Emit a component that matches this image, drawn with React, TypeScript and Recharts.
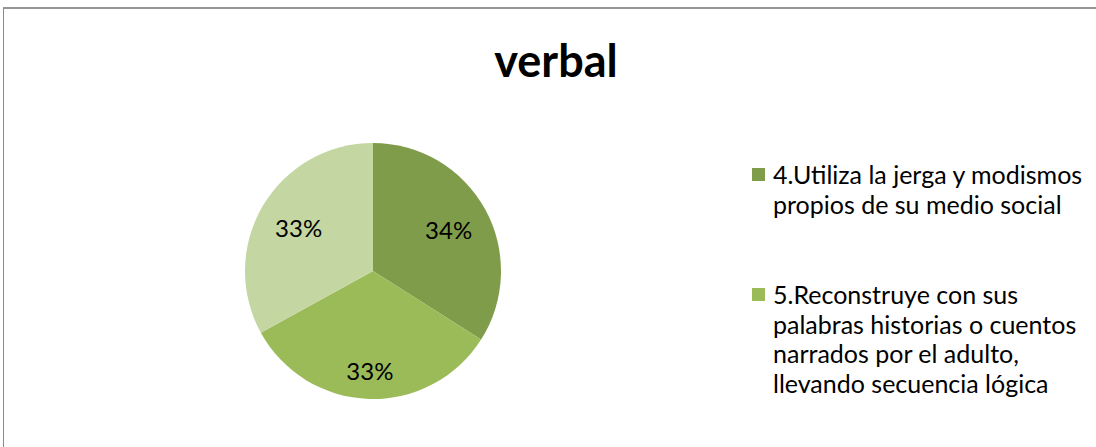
import { PieChart, Pie, Cell, Legend } from "recharts";

const categories = [
  "4.Utiliza la jerga y modismos propios de su medio social",
  "5.Reconstruye con sus palabras historias o cuentos narrados por el adulto, llevando secuencia lógica",
  "6.",
];
const values = [34, 33, 33];
const colors = ["#7f9c4a", "#9bbb59", "#c4d6a2"];

const data = categories.map((name, i) => ({ name, value: values[i] }));

const FONT = "Lato, 'Open Sans', sans-serif";
const RADIAN = Math.PI / 180;
const LEGEND_H = 240;
const ENTRY_H = 120;

// percentage label, pushed inward so its box stays inside the slice
function renderLabel(props: any) {
  const { cx, cy, midAngle, outerRadius, percent } = props;
  const cos = Math.cos(-midAngle * RADIAN);
  const sin = Math.sin(-midAngle * RADIAN);
  const boxW = 45;
  const boxH = 22;
  const r = outerRadius * 0.87 - (boxW / 2) * Math.abs(cos) - (boxH / 2) * Math.abs(sin);
  return (
    <text
      x={cx + r * cos}
      y={cy + r * sin}
      fill="#000"
      textAnchor="middle"
      dominantBaseline="central"
      fontSize={24}
      fontFamily={FONT}
    >
      {`${Math.round(percent * 100)}%`}
    </text>
  );
}

// legend like the office one: entries that do not fit in the box are dropped
function LegendContent(props: any) {
  const { payload } = props;
  const shown = (payload || []).slice(0, Math.floor(LEGEND_H / ENTRY_H));
  return (
    <div style={{ height: LEGEND_H, fontFamily: FONT, fontSize: 25 }}>
      {shown.map((entry: any, i: number) => (
        <div key={i} style={{ display: "flex", height: ENTRY_H, lineHeight: "29.5px" }}>
          <div
            style={{
              width: 13,
              height: 13,
              background: entry.color,
              marginTop: 8,
              marginRight: 8,
              flexShrink: 0,
            }}
          />
          <div style={{ width: 318, color: "#000" }}>{entry.value}</div>
        </div>
      ))}
    </div>
  );
}

export default function App() {
  return (
    <div style={{ position: "absolute", left: 0, top: 0, width: 1096, height: 447, background: "#fff" }}>
      <div
        style={{
          position: "absolute",
          left: 3,
          top: 7,
          right: 0,
          bottom: -2,
          borderTop: "2px solid #959595",
          borderLeft: "1px solid #8a8a8a",
        }}
      />
      <div
        style={{
          position: "absolute",
          left: 0,
          width: 1112,
          top: 34,
          textAlign: "center",
          fontFamily: FONT,
          fontWeight: 700,
          fontSize: 45,
          lineHeight: "52px",
        }}
      >
        verbal
      </div>
      <div style={{ position: "absolute", left: 0, top: 0 }}>
        <PieChart width={1096} height={447} margin={{ top: 0, right: 0, bottom: 0, left: 0 }}>
          <Pie
            data={data}
            dataKey="value"
            nameKey="name"
            cx={373}
            cy={271}
            outerRadius={128}
            startAngle={90}
            endAngle={-270}
            stroke="none"
            label={renderLabel}
            labelLine={false}
            isAnimationActive={false}
          >
            {data.map((d, i) => (
              <Cell key={d.name} fill={colors[i]} />
            ))}
          </Pie>
          <Legend
            content={<LegendContent />}
            wrapperStyle={{ position: "absolute", left: 752, top: 160, width: 342 }}
          />
        </PieChart>
      </div>
    </div>
  );
}
